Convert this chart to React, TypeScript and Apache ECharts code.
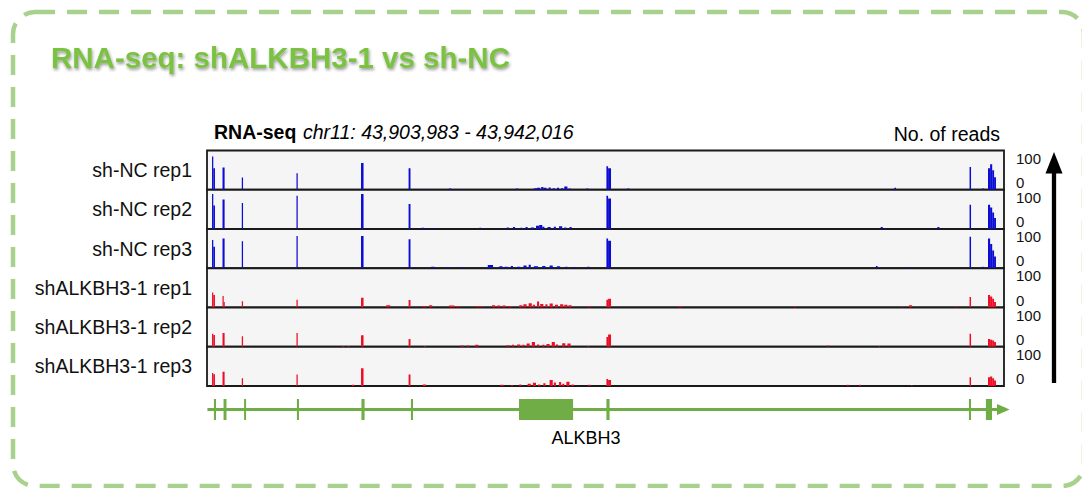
import React, { useEffect, useRef } from "react";
import * as echarts from "echarts";

// ---------- data ----------
const TITLE = "RNA-seq: shALKBH3-1 vs sh-NC";
const ASSAY = "RNA-seq";
const REGION = "chr11: 43,903,983 - 43,942,016";
const REGION_START = 43903983;
const REGION_END = 43942016;
const REGION_KB = (REGION_END - REGION_START) / 1000; // x axis in kb from region start
const SCALE_LABEL = "No. of reads";
const SCALE_MAX = 100;
const SCALE_TICKS = [0, 100];

const TRACK_NAMES = [
  "sh-NC rep1",
  "sh-NC rep2",
  "sh-NC rep3",
  "shALKBH3-1 rep1",
  "shALKBH3-1 rep2",
  "shALKBH3-1 rep3",
];

// coverage blocks: [start kb, end kb, reads]
const SH_NC_REP1 = [
  [0.24, 0.3, 85], [0.3, 0.38, 55], [0.74, 0.84, 57], [1.66, 1.72, 31], [4.27, 4.33, 42],
  [7.35, 7.47, 68], [9.62, 9.71, 55],
  [10.4, 10.48, 2], [11.55, 11.65, 3], [12.05, 12.13, 2], [14.75, 14.85, 3], [15.6, 15.75, 4],
  [15.75, 15.9, 5], [15.95, 16.05, 7], [16.05, 16.2, 5], [16.3, 16.4, 6], [16.5, 16.6, 4],
  [16.7, 16.8, 5], [16.9, 17.0, 4], [17.05, 17.2, 8], [17.25, 17.35, 3], [18.1, 18.2, 3],
  [19.06, 19.14, 60], [19.14, 19.28, 55], [20.05, 20.15, 3], [32.8, 32.88, 5],
  [36.39, 36.46, 58], [37.0, 37.06, 4],
  [37.27, 37.37, 55], [37.37, 37.47, 65], [37.47, 37.56, 50], [37.56, 37.65, 32],
];
const SH_NC_REP2 = [
  [0.24, 0.3, 89], [0.3, 0.38, 60], [0.74, 0.84, 75], [1.66, 1.72, 66], [4.27, 4.33, 85],
  [7.35, 7.47, 89], [9.62, 9.71, 64],
  [10.25, 10.35, 3], [10.5, 10.6, 2], [10.75, 10.85, 2], [13.0, 13.08, 3], [14.3, 14.4, 4],
  [14.6, 14.7, 5], [14.95, 15.05, 3], [15.2, 15.3, 5], [15.45, 15.6, 4], [15.7, 15.85, 8],
  [15.85, 16.0, 10], [16.0, 16.1, 6], [16.25, 16.4, 5], [16.55, 16.65, 6], [16.8, 16.95, 7],
  [17.05, 17.15, 4], [17.3, 17.4, 5], [18.55, 18.65, 2],
  [19.06, 19.14, 85], [19.14, 19.28, 78], [32.15, 32.25, 5], [34.85, 34.95, 5],
  [36.39, 36.46, 62],
  [37.27, 37.37, 62], [37.37, 37.47, 55], [37.47, 37.56, 42], [37.56, 37.65, 28],
];
const SH_NC_REP3 = [
  [0.24, 0.3, 72], [0.3, 0.38, 55], [0.74, 0.84, 76], [1.66, 1.72, 69], [4.27, 4.33, 82],
  [7.35, 7.47, 82], [9.62, 9.71, 74],
  [9.9, 9.98, 2], [10.7, 10.85, 4], [11.45, 11.55, 3], [12.1, 12.2, 3], [13.4, 13.65, 8],
  [13.95, 14.1, 5], [14.2, 14.35, 4], [14.5, 14.6, 6], [14.8, 14.95, 4], [15.1, 15.25, 7],
  [15.35, 15.45, 9], [15.6, 15.8, 5], [16.0, 16.15, 6], [16.35, 16.5, 7], [16.7, 16.85, 5],
  [17.1, 17.2, 4], [17.5, 17.6, 3], [18.15, 18.25, 4],
  [19.06, 19.14, 76], [19.14, 19.28, 70], [31.92, 32.0, 6], [33.4, 33.48, 3],
  [36.39, 36.46, 80], [37.0, 37.06, 4],
  [37.27, 37.37, 76], [37.37, 37.47, 62], [37.47, 37.56, 45], [37.56, 37.65, 30],
];
const SH_ALKBH3_REP1 = [
  [0.24, 0.3, 38], [0.3, 0.38, 32], [0.74, 0.79, 29], [0.79, 0.84, 14], [1.66, 1.72, 16],
  [4.27, 4.33, 20], [7.35, 7.47, 25], [8.55, 8.75, 6], [9.62, 9.71, 19],
  [10.3, 10.45, 4], [10.6, 10.75, 6], [11.55, 11.8, 5], [11.9, 12.05, 4], [12.85, 13.0, 4],
  [13.05, 13.15, 3], [13.6, 13.75, 6], [13.85, 14.0, 5], [14.1, 14.25, 5], [14.4, 14.55, 4],
  [14.9, 15.05, 6], [15.1, 15.25, 8], [15.35, 15.5, 11], [15.55, 15.65, 7], [15.75, 15.85, 15],
  [15.9, 16.05, 9], [16.15, 16.25, 8], [16.35, 16.5, 10], [16.6, 16.75, 7], [16.85, 17.0, 8],
  [17.05, 17.2, 7], [17.25, 17.4, 6], [18.15, 18.3, 3],
  [19.06, 19.14, 20], [19.14, 19.28, 22], [22.5, 22.65, 3], [28.0, 28.1, 3], [33.1, 33.18, 2],
  [33.5, 33.65, 6], [35.7, 35.78, 3], [36.39, 36.46, 27],
  [37.27, 37.37, 32], [37.37, 37.47, 28], [37.47, 37.56, 22], [37.56, 37.65, 14],
];
const SH_ALKBH3_REP2 = [
  [0.24, 0.3, 33], [0.3, 0.38, 30], [0.74, 0.84, 35], [1.66, 1.72, 27], [4.27, 4.33, 35],
  [6.45, 6.55, 2], [6.7, 6.8, 2], [7.35, 7.47, 29], [9.62, 9.71, 20],
  [10.35, 10.45, 2], [12.1, 12.25, 3], [12.4, 12.5, 3], [12.8, 12.95, 5], [14.3, 14.45, 4],
  [14.55, 14.65, 5], [14.8, 14.95, 6], [15.05, 15.15, 5], [15.25, 15.4, 8], [15.5, 15.65, 12],
  [15.75, 15.85, 6], [16.0, 16.1, 5], [16.2, 16.35, 7], [16.45, 16.6, 12], [16.65, 16.75, 6],
  [16.95, 17.1, 9], [17.2, 17.35, 8], [18.15, 18.25, 2],
  [19.06, 19.14, 25], [19.14, 19.28, 31], [29.6, 29.68, 3], [32.05, 32.12, 2],
  [36.39, 36.46, 33],
  [37.27, 37.37, 20], [37.37, 37.47, 18], [37.47, 37.56, 16], [37.56, 37.65, 12],
];
const SH_ALKBH3_REP3 = [
  [0.24, 0.3, 33], [0.3, 0.38, 30], [0.74, 0.84, 36], [1.66, 1.72, 20], [4.27, 4.33, 29],
  [6.92, 7.02, 3], [7.35, 7.47, 45], [9.62, 9.71, 29], [10.3, 10.45, 4],
  [14.0, 14.15, 3], [14.5, 14.6, 2], [14.9, 15.0, 4], [15.3, 15.45, 6], [15.55, 15.7, 8],
  [15.8, 15.9, 4], [16.05, 16.15, 7], [16.35, 16.5, 15], [16.55, 16.65, 9], [16.8, 16.9, 10],
  [16.95, 17.05, 6], [17.15, 17.3, 11], [17.4, 17.5, 4], [18.2, 18.3, 3],
  [19.06, 19.14, 18], [19.14, 19.28, 15], [30.55, 30.62, 3], [31.12, 31.2, 3], [33.6, 33.67, 2],
  [36.39, 36.46, 22],
  [37.27, 37.37, 22], [37.37, 37.47, 24], [37.47, 37.56, 20], [37.56, 37.65, 14],
];
const TRACK_DATA = [SH_NC_REP1, SH_NC_REP2, SH_NC_REP3, SH_ALKBH3_REP1, SH_ALKBH3_REP2, SH_ALKBH3_REP3];
const TRACK_GROUP = ["sh-NC", "sh-NC", "sh-NC", "shALKBH3-1", "shALKBH3-1", "shALKBH3-1"];

// gene model (kb from region start)
const GENE_NAME = "ALKBH3";
const GENE_SPAN = [[0.02, 37.9]];
const GENE_ARROW = [[37.7, 38.3]];
const GENE_EXONS = [
  [0.33, 0.43], [0.79, 0.93], [1.77, 1.86], [4.29, 4.39], [7.37, 7.52], [9.73, 9.83],
  [14.89, 17.47], [19.06, 19.21], [36.36, 36.46], [37.17, 37.46],
];

// ---------- style ----------
const FONT = "'Liberation Sans', Arial, Helvetica, sans-serif";
const GROUP_COLOR: Record<string, string> = { "sh-NC": "#0c0cd2", "shALKBH3-1": "#ec0e24" };
const GENE_COLOR = "#70ad47";
const LEFT = 207;
const WIDTH = 797;
const TOP = 150.5;
const TRACK_H = 39.25;

function buildOption() {
  const grids: any[] = [];
  const xAxes: any[] = [];
  const yAxes: any[] = [];
  const series: any[] = [];

  TRACK_NAMES.forEach((name, i) => {
    grids.push({
      left: LEFT,
      width: WIDTH,
      top: TOP + i * TRACK_H,
      height: TRACK_H,
      show: true,
      backgroundColor: "#f5f5f5",
      borderColor: "#1a1a1a",
      borderWidth: 1.8,
    });
    xAxes.push({ gridIndex: i, type: "value", min: 0, max: REGION_KB, show: false });
    const base = {
      gridIndex: i,
      type: "value",
      min: SCALE_TICKS[0],
      max: SCALE_MAX,
      interval: SCALE_TICKS[1] - SCALE_TICKS[0],
      axisLine: { show: false },
      axisTick: { show: false },
      splitLine: { show: false },
    };
    yAxes.push({
      ...base,
      position: "right",
      axisLabel: {
        formatter: (v: number) => (v === SCALE_TICKS[1] ? String(v) : ""),
        verticalAlign: "top",
        margin: 12,
        fontSize: 15,
        color: "#111",
        fontFamily: FONT,
      },
    });
    yAxes.push({
      ...base,
      position: "right",
      axisLabel: {
        formatter: (v: number) => (v === SCALE_TICKS[0] ? String(v) : ""),
        verticalAlign: "bottom",
        margin: 12,
        fontSize: 15,
        color: "#111",
        fontFamily: FONT,
      },
    });
    yAxes.push({
      ...base,
      position: "left",
      axisLabel: { show: false },
      name: name,
      nameLocation: "middle",
      nameRotate: 0,
      nameGap: 15,
      nameTextStyle: {
        fontSize: 19.5,
        color: "#111",
        fontFamily: FONT,
        align: "right",
        verticalAlign: "middle",
        padding: [8, 0, 0, 0],
      },
    });
    const color = GROUP_COLOR[TRACK_GROUP[i]];
    series.push({
      type: "custom",
      name,
      xAxisIndex: i,
      yAxisIndex: i * 3,
      data: TRACK_DATA[i],
      encode: { x: [0, 1], y: 2 },
      clip: true,
      renderItem: (_p: any, api: any) => {
        const a = api.coord([api.value(0), 0]);
        const b = api.coord([api.value(1), api.value(2)]);
        return {
          type: "rect",
          shape: { x: a[0], y: b[1], width: Math.max(b[0] - a[0], 1.2), height: a[1] - b[1] },
          style: { fill: color },
        };
      },
    });
  });

  // gene model grid
  const gi = TRACK_NAMES.length;
  grids.push({ left: LEFT, width: WIDTH, top: 399, height: 21, show: false });
  xAxes.push({ gridIndex: gi, type: "value", min: 0, max: REGION_KB, show: false });
  yAxes.push({ gridIndex: gi, type: "value", min: 0, max: 1, show: false });
  const gy = yAxes.length - 1;
  series.push({
    type: "custom",
    name: "gene backbone",
    xAxisIndex: gi,
    yAxisIndex: gy,
    data: GENE_SPAN,
    clip: false,
    encode: { x: [0, 1] },
    renderItem: (_p: any, api: any) => {
      const a = api.coord([api.value(0), 0.5]);
      const b = api.coord([api.value(1), 0.5]);
      return { type: "rect", shape: { x: a[0], y: a[1] - 1.6, width: b[0] - a[0], height: 3.2 }, style: { fill: GENE_COLOR } };
    },
  });
  series.push({
    type: "custom",
    name: "gene strand",
    xAxisIndex: gi,
    yAxisIndex: gy,
    data: GENE_ARROW,
    clip: false,
    encode: { x: [0, 1] },
    renderItem: (_p: any, api: any) => {
      const a = api.coord([api.value(0), 0.5]);
      const b = api.coord([api.value(1), 0.5]);
      return {
        type: "polygon",
        shape: { points: [[a[0], a[1] - 5.5], [b[0], a[1]], [a[0], a[1] + 5.5]] },
        style: { fill: GENE_COLOR },
      };
    },
  });
  series.push({
    type: "custom",
    name: GENE_NAME,
    xAxisIndex: gi,
    yAxisIndex: gy,
    data: GENE_EXONS,
    clip: false,
    encode: { x: [0, 1] },
    renderItem: (_p: any, api: any) => {
      const a = api.coord([api.value(0), 1]);
      const b = api.coord([api.value(1), 0]);
      return {
        type: "rect",
        shape: { x: a[0], y: a[1], width: Math.max(b[0] - a[0], 2), height: b[1] - a[1] },
        style: { fill: GENE_COLOR },
      };
    },
  });

  return {
    animation: false,
    backgroundColor: "#ffffff",
    textStyle: { fontFamily: FONT },
    title: {
      text: TITLE,
      left: 51,
      top: 42,
      padding: 0,
      textStyle: {
        fontSize: 29.5,
        fontWeight: "bold",
        color: "#7cc243",
        fontFamily: FONT,
        textShadowColor: "rgba(40,40,40,0.45)",
        textShadowBlur: 3,
        textShadowOffsetX: 1,
        textShadowOffsetY: 2,
      },
    },
    grid: grids,
    xAxis: xAxes,
    yAxis: yAxes,
    series,
    graphic: [
      {
        type: "rect",
        silent: true,
        z: 0,
        shape: { x: 13, y: 12, width: 1071, height: 474, r: 22 },
        style: { fill: "transparent", stroke: "#a9d18e", lineWidth: 4.5, lineDash: [20, 12] },
      },
      {
        type: "text",
        x: 214,
        y: 132,
        style: {
          text: `{b|${ASSAY}}  {i|${REGION}}`,
          verticalAlign: "middle",
          rich: {
            b: { fontSize: 19.5, fontWeight: "bold", fontFamily: FONT, fill: "#000" },
            i: { fontSize: 19.5, fontStyle: "italic", fontFamily: FONT, fill: "#000" },
          },
        },
      },
      {
        type: "text",
        x: 1000,
        y: 134,
        style: { text: SCALE_LABEL, align: "right", verticalAlign: "middle", fontSize: 19.5, fontFamily: FONT, fill: "#000" },
      },
      {
        type: "line",
        shape: { x1: 1054, y1: 383, x2: 1054, y2: 168 },
        style: { stroke: "#000", lineWidth: 4.3 },
      },
      {
        type: "polygon",
        shape: { points: [[1054, 152], [1045.5, 173.5], [1062.5, 173.5]] },
        style: { fill: "#000" },
      },
      {
        type: "text",
        x: 586,
        y: 438,
        style: { text: GENE_NAME, align: "center", verticalAlign: "middle", fontSize: 18, fontFamily: FONT, fill: "#000" },
      },
    ],
  };
}

export default function App() {
  const ref = useRef<HTMLDivElement>(null);
  useEffect(() => {
    if (!ref.current) return;
    const chart = echarts.init(ref.current, undefined, { renderer: "svg" });
    chart.setOption(buildOption() as any);
    return () => chart.dispose();
  }, []);
  return (
    <div
      ref={ref}
      style={{ position: "fixed", left: 0, top: 0, width: 1082, height: 488, background: "#fff" }}
    />
  );
}
